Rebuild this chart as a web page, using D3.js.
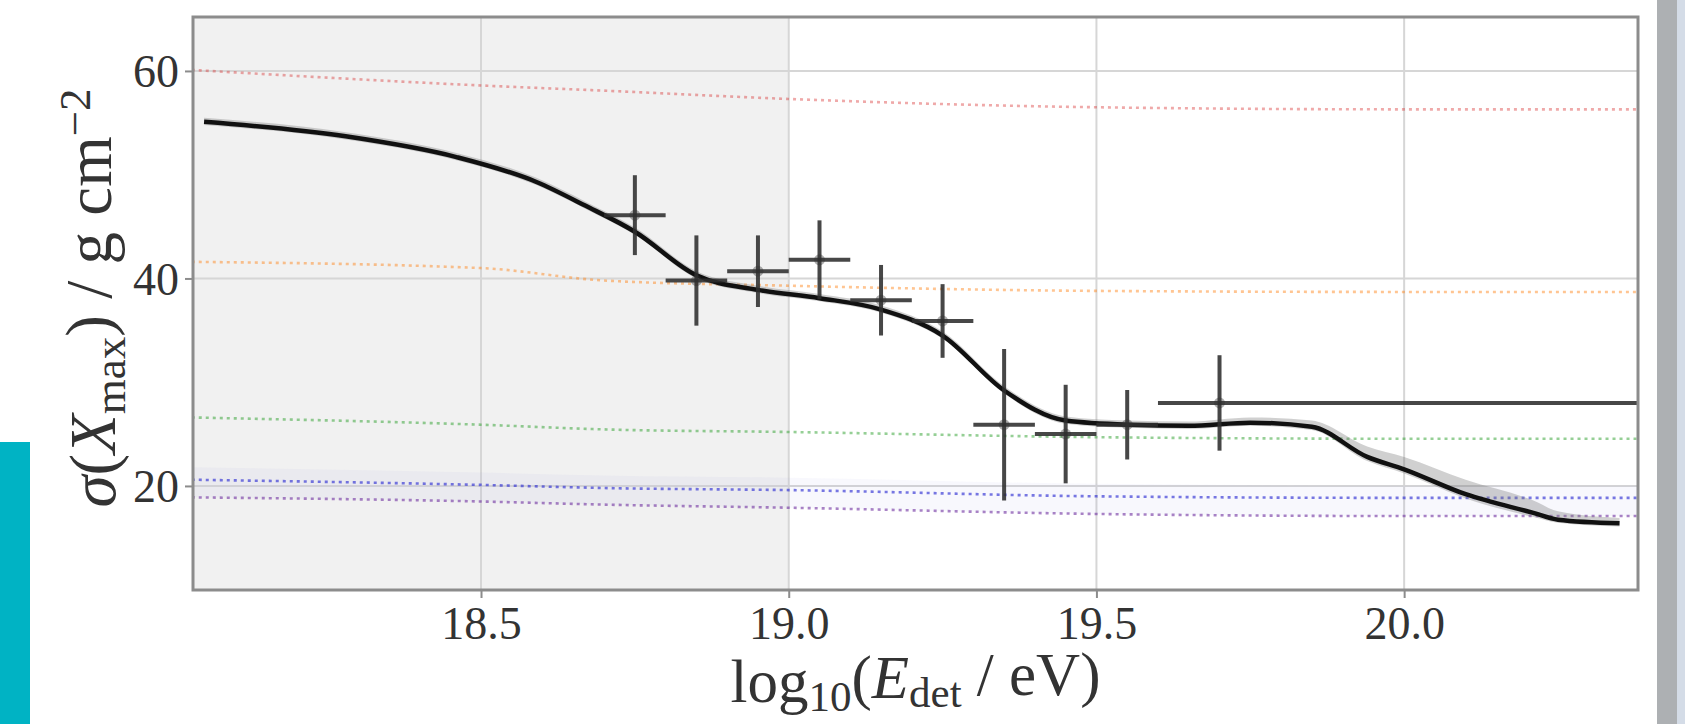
<!DOCTYPE html>
<html>
<head>
<meta charset="utf-8">
<script src="https://cdn.jsdelivr.net/npm/d3@7"></script>
<style>
  html, body { margin: 0; padding: 0; background: #fff; }
  svg { display: block; }
  text { font-family: "Liberation Serif", "DejaVu Serif", serif; fill: #333; }
</style>
</head>
<body>
<svg id="chart" width="1685" height="724"></svg>
<script>
// Measured sigma(Xmax) per energy bin
const binCenter = [18.75, 18.85, 18.95, 19.05, 19.15, 19.25, 19.35, 19.45, 19.55, 19.70];
const binLo     = [18.70, 18.80, 18.90, 19.00, 19.10, 19.20, 19.30, 19.40, 19.50, 19.60];
const binHi     = [18.80, 18.90, 19.00, 19.10, 19.20, 19.30, 19.40, 19.50, 19.60, 20.60];
const sigmaVal  = [46.1, 39.8, 40.7, 41.8, 37.9, 35.9, 25.9, 25.0, 25.9, 28.0];
const sigmaErr  = [3.85, 4.35, 3.45, 3.8, 3.4, 3.55, 7.3, 4.75, 3.35, 4.6];

// Fitted model curve and its spread
const fitE   = [18.05, 18.28, 18.46, 18.59, 18.67, 18.75, 18.85, 18.95, 19.05, 19.15, 19.25, 19.35, 19.45, 19.55, 19.65, 19.75, 19.85, 19.94, 20.00, 20.10, 20.21, 20.25, 20.35];
const fitSig = [55.1, 53.7, 51.7, 49.3, 47.0, 44.5, 40.3, 38.9, 38.1, 37.0, 34.5, 29.2, 26.3, 25.9, 25.8, 26.1, 25.7, 22.8, 21.6, 19.2, 17.4, 16.75, 16.4];
const fitUp  = [0.4, 0.4, 0.4, 0.4, 0.4, 0.4, 0.4, 0.4, 0.4, 0.4, 0.4, 0.4, 0.4, 0.4, 0.4, 0.5, 0.6, 1.0, 1.2, 1.4, 1.2, 0.8, 0.5];
const fitDn  = [0.3, 0.3, 0.3, 0.3, 0.3, 0.3, 0.3, 0.3, 0.3, 0.3, 0.3, 0.3, 0.3, 0.3, 0.3, 0.3, 0.3, 0.4, 0.4, 0.4, 0.4, 0.3, 0.3];

// Reference expectations for pure compositions
const refE   = [18.03, 18.5, 18.7, 19.0, 19.5, 20.0, 20.38];
const refH   = [60.1, 58.6, 58.1, 57.3, 56.5, 56.3, 56.3];
const refHe  = [41.6, 41.0, 39.8, 39.3, 38.8, 38.7, 38.7];
const refN   = [26.6, 25.9, 25.45, 25.2, 24.7, 24.55, 24.55];
const refSi  = [20.6, 20.1, 19.8, 19.6, 19.0, 18.85, 18.85];
const refFe  = [18.9, 18.5, 18.2, 17.9, 17.3, 17.1, 17.1];
const refNames  = ["H", "He", "N", "Si", "Fe"];
const refColors = ["#d62728", "#ff7f0e", "#2ca02c", "#2020d0", "#7030a0"];
const refOpacity = [0.4, 0.45, 0.5, 0.6, 0.6];

const xTicks = [18.5, 19.0, 19.5, 20.0];
const yTicks = [20, 40, 60];
const shadedUpTo = 19.0;

const svg = d3.select("#chart");
const m = { left: 193, right: 1638, top: 17, bottom: 590 };

const x = d3.scaleLinear().domain([18.032, 20.38]).range([m.left, m.right]);
const y = d3.scaleLinear().domain([9.97, 65.2]).range([m.bottom, m.top]);

// page decorations
svg.append("rect").attr("x", 0).attr("y", 442).attr("width", 30).attr("height", 282).attr("fill", "#00b3c4");
svg.append("rect").attr("x", 1657).attr("y", 0).attr("width", 20).attr("height", 724).attr("fill", "#adb0b3");
svg.append("rect").attr("x", 1677).attr("y", 0).attr("width", 8).attr("height", 724).attr("fill", "#d4dce7");

svg.append("defs").append("clipPath").attr("id", "plotclip")
  .append("rect").attr("x", m.left).attr("y", m.top)
  .attr("width", m.right - m.left).attr("height", m.bottom - m.top);

const plot = svg.append("g").attr("clip-path", "url(#plotclip)");

// low-energy region shading
plot.append("rect")
  .attr("x", m.left).attr("y", m.top)
  .attr("width", x(shadedUpTo) - m.left).attr("height", m.bottom - m.top)
  .attr("fill", "#f1f1f1");

// grid
plot.selectAll(".vgrid").data(xTicks).join("line")
  .attr("x1", d => x(d)).attr("x2", d => x(d))
  .attr("y1", m.top).attr("y2", m.bottom)
  .attr("stroke", "#d6d6d6").attr("stroke-width", 2);
plot.selectAll(".hgrid").data(yTicks).join("line")
  .attr("y1", d => y(d)).attr("y2", d => y(d))
  .attr("x1", m.left).attr("x2", m.right)
  .attr("stroke", "#d6d6d6").attr("stroke-width", 2);

// faint band between the heavy references
const heavyBand = d3.area()
  .x((d, i) => x(refE[i]))
  .y0((d, i) => y(refFe[i]))
  .y1((d, i) => y(refSi[i] + 1.2))
  .curve(d3.curveMonotoneX);
plot.append("path").datum(refE).attr("d", heavyBand)
  .attr("fill", "#7070e0").attr("opacity", 0.05);

// reference lines
const refSeries = [refH, refHe, refN, refSi, refFe];
const refLine = vals => d3.line()
  .x((d, i) => x(refE[i]))
  .y((d, i) => y(vals[i]))
  .curve(d3.curveMonotoneX)(refE);
refSeries.forEach((vals, k) => {
  plot.append("path")
    .attr("class", "ref-" + refNames[k])
    .attr("d", refLine(vals))
    .attr("fill", "none")
    .attr("stroke", refColors[k])
    .attr("stroke-opacity", refOpacity[k])
    .attr("stroke-width", 2.6)
    .attr("stroke-dasharray", "3 4");
});

// model spread and curve
const fitArea = d3.area()
  .x((d, i) => x(fitE[i]))
  .y0((d, i) => y(fitSig[i] - fitDn[i]))
  .y1((d, i) => y(fitSig[i] + fitUp[i]))
  .curve(d3.curveMonotoneX);
plot.append("path").datum(fitE).attr("d", fitArea)
  .attr("fill", "#777").attr("opacity", 0.35);

const fitLine = d3.line()
  .x((d, i) => x(fitE[i]))
  .y((d, i) => y(fitSig[i]))
  .curve(d3.curveMonotoneX);
plot.append("path").datum(fitE).attr("d", fitLine)
  .attr("fill", "none").attr("stroke", "#111").attr("stroke-width", 4.5)
  .attr("stroke-linejoin", "round");

// data points with error bars
const pts = binCenter.map((e, i) => ({ e, lo: binLo[i], hi: binHi[i], s: sigmaVal[i], err: sigmaErr[i] }));
const pg = plot.append("g").attr("stroke", "#2e2e2e").attr("stroke-width", 4).attr("stroke-opacity", 0.88);
pg.selectAll(".xerr").data(pts).join("line")
  .attr("x1", d => x(d.lo)).attr("x2", d => x(d.hi))
  .attr("y1", d => y(d.s)).attr("y2", d => y(d.s));
pg.selectAll(".yerr").data(pts).join("line")
  .attr("x1", d => x(d.e)).attr("x2", d => x(d.e))
  .attr("y1", d => y(d.s - d.err)).attr("y2", d => y(d.s + d.err));
plot.selectAll(".pt").data(pts).join("circle")
  .attr("cx", d => x(d.e)).attr("cy", d => y(d.s)).attr("r", 5.5)
  .attr("fill", "#333").attr("opacity", 0.4);

// frame
svg.append("rect")
  .attr("x", m.left).attr("y", m.top)
  .attr("width", m.right - m.left).attr("height", m.bottom - m.top)
  .attr("fill", "none").attr("stroke", "#8c8c8c").attr("stroke-width", 3);

// axes
const xAxis = d3.axisBottom(x).tickValues(xTicks).tickFormat(d3.format(".1f")).tickSize(8).tickPadding(8);
const yAxis = d3.axisLeft(y).tickValues(yTicks).tickFormat(d3.format("d")).tickSize(8).tickPadding(6);

const gx = svg.append("g").attr("transform", `translate(0,${m.bottom})`).call(xAxis);
const gy = svg.append("g").attr("transform", `translate(${m.left},0)`).call(yAxis);
[gx, gy].forEach(g => {
  g.select(".domain").remove();
  g.selectAll(".tick line").attr("stroke", "#8c8c8c").attr("stroke-width", 2);
  g.selectAll(".tick text")
    .style("font-family", '"Liberation Serif", serif')
    .style("font-size", "46px")
    .attr("fill", "#333");
});
gy.selectAll(".tick text").attr("dy", "0.34em");

// axis titles
const xt = svg.append("text")
  .attr("x", (m.left + m.right) / 2).attr("y", 702)
  .attr("text-anchor", "middle").style("font-size", "61px");
xt.append("tspan").text("log");
xt.append("tspan").attr("dy", "0.2em").style("font-size", "43px").text("10");
xt.append("tspan").attr("dy", "-0.2em").text("(");
xt.append("tspan").style("font-style", "italic").text("E");
xt.append("tspan").attr("dy", "0.2em").style("font-size", "43px").text("det");
xt.append("tspan").attr("dy", "-0.2em").text(" / eV)");

const yt = svg.append("text")
  .attr("transform", "translate(115,298) rotate(-90)")
  .attr("text-anchor", "middle").style("font-size", "65px");
yt.append("tspan").style("font-style", "italic").text("σ");
yt.append("tspan").text("(");
yt.append("tspan").style("font-style", "italic").text("X");
yt.append("tspan").attr("dy", "0.22em").style("font-size", "45px").text("max");
yt.append("tspan").attr("dy", "-0.22em").text(") / g cm");
yt.append("tspan").attr("dy", "-0.45em").style("font-size", "45px").text("−2");
</script>
</body>
</html>
